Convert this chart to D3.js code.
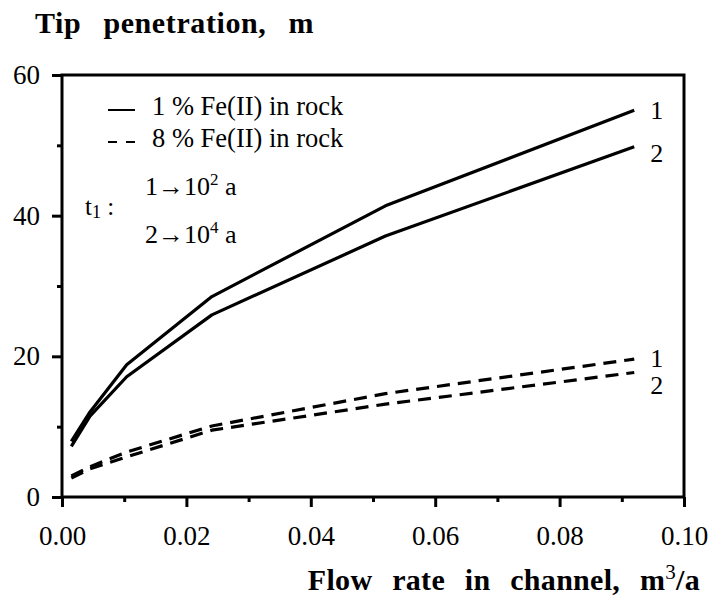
<!DOCTYPE html>
<html><head><meta charset="utf-8">
<script src="https://cdn.jsdelivr.net/npm/d3@7"></script>
<style>
body{margin:0;background:#fff;}
svg{display:block;}
</style></head>
<body>
<svg id="chart" width="710" height="608" font-family="Liberation Serif"></svg>
<script>
// ---- data ----
const flowRate = [0.0015, 0.0045, 0.0104, 0.0241, 0.052, 0.092];
const solid1 = [7.9, 12.1, 18.8, 28.5, 41.4, 55.0];   // 1 % Fe(II), t1 = 10^2 a
const solid2 = [7.2, 11.5, 17.1, 25.9, 37.1, 49.8];   // 1 % Fe(II), t1 = 10^4 a
const dashed1 = [3.0, 4.3, 6.4, 10.1, 14.7, 19.6];    // 8 % Fe(II), t1 = 10^2 a
const dashed2 = [2.7, 4.0, 5.7, 9.5, 13.2, 17.7];     // 8 % Fe(II), t1 = 10^4 a
const xMajorTicks = [0, 0.02, 0.04, 0.06, 0.08, 0.10];
const xMinorTicks = [0.01, 0.03, 0.05, 0.07, 0.09];
const yMajorTicks = [0, 20, 40, 60];
const yMinorTicks = [10, 30, 50];
const seriesNames = ["1 % Fe(II) in rock", "8 % Fe(II) in rock"];
const curveLabels = ["1", "2"];

const FONT = "Liberation Serif";
const svg = d3.select("#chart");
const x = d3.scaleLinear().domain([0, 0.10]).range([62, 684]);
const y = d3.scaleLinear().domain([0, 60]).range([497, 75]);

// axes
const gx = svg.append("g").attr("transform", `translate(0,${y(0)})`)
  .call(d3.axisBottom(x).tickValues(xMajorTicks).tickSize(10).tickSizeOuter(0).tickPadding(19).tickFormat(d3.format(".2f")));
const gxm = svg.append("g").attr("transform", `translate(0,${y(0)})`)
  .call(d3.axisBottom(x).tickValues(xMinorTicks).tickSize(5).tickSizeOuter(0).tickFormat(""));
const gy = svg.append("g").attr("transform", `translate(${x(0)},0)`)
  .call(d3.axisLeft(y).tickValues(yMajorTicks).tickSize(10).tickSizeOuter(0).tickPadding(12).tickFormat(d3.format("d")));
const gym = svg.append("g").attr("transform", `translate(${x(0)},0)`)
  .call(d3.axisLeft(y).tickValues(yMinorTicks).tickSize(5).tickSizeOuter(0).tickFormat(""));
[gx, gxm, gy, gym].forEach(g => {
  g.attr("font-family", null).attr("font-size", null);
  g.select(".domain").remove();
  g.selectAll("line").attr("stroke", "#000").attr("stroke-width", 3);
  g.selectAll("text").attr("font-size", 27).attr("fill", "#000");
});

// frame
svg.append("rect").attr("x", x(0)).attr("y", y(60)).attr("width", x(0.10) - x(0)).attr("height", y(0) - y(60))
  .attr("fill", "none").attr("stroke", "#000").attr("stroke-width", 3);

// lines
const line = d3.line().x((d, i) => x(flowRate[i])).y(d => y(d));
const series = [
  {v: solid1, dash: null},
  {v: solid2, dash: null},
  {v: dashed1, dash: "13 8"},
  {v: dashed2, dash: "13 8"}
];
series.forEach(s => {
  svg.append("path").datum(s.v).attr("d", line)
    .attr("fill", "none").attr("stroke", "#000").attr("stroke-width", 3.2)
    .attr("stroke-linejoin", "round")
    .attr("stroke-dasharray", s.dash);
});

// curve end labels
const lastX = x(flowRate[flowRate.length - 1]) + 16;
[[solid1, 0, 0], [solid2, 1, 6], [dashed1, 0, -1], [dashed2, 1, 12]].forEach(([arr, li, off]) => {
  svg.append("text").attr("x", lastX).attr("y", y(arr[arr.length - 1]) + off)
    .attr("dy", "0.35em").attr("font-size", 26).text(curveLabels[li]);
});

// legend
svg.append("line").attr("x1", 108).attr("x2", 135).attr("y1", 110).attr("y2", 110)
  .attr("stroke", "#000").attr("stroke-width", 2);
svg.append("line").attr("x1", 108).attr("x2", 135).attr("y1", 142).attr("y2", 142)
  .attr("stroke", "#000").attr("stroke-width", 2).attr("stroke-dasharray", "9 9");
svg.append("text").attr("x", 152).attr("y", 115).attr("font-size", 26.5).text(seriesNames[0]);
svg.append("text").attr("x", 152).attr("y", 147).attr("font-size", 26.5).text(seriesNames[1]);

// t1 annotation
const t1 = svg.append("text").attr("x", 85).attr("y", 215).attr("font-size", 25);
t1.append("tspan").text("t");
t1.append("tspan").attr("font-size", 18).attr("dy", 3).text("1");
t1.append("tspan").attr("dy", -3).text(" :");

const a1 = svg.append("text").attr("x", 145).attr("y", 195).attr("font-size", 26);
a1.append("tspan").text("1\u219210");
a1.append("tspan").attr("font-size", 17).attr("dy", -10).text("2");
a1.append("tspan").attr("dy", 10).text(" a");
const a2 = svg.append("text").attr("x", 145).attr("y", 243).attr("font-size", 26);
a2.append("tspan").text("2\u219210");
a2.append("tspan").attr("font-size", 17).attr("dy", -10).text("4");
a2.append("tspan").attr("dy", 10).text(" a");

// titles
svg.append("text").attr("x", 35).attr("y", 33).attr("font-size", 30).attr("font-weight", "bold")
  .attr("word-spacing", 14).attr("letter-spacing", 0.6).text("Tip penetration, m");
const xt = svg.append("text").attr("x", 700).attr("y", 590).attr("text-anchor", "end")
  .attr("font-size", 30).attr("font-weight", "bold").attr("word-spacing", 12).attr("letter-spacing", 0.3);
xt.append("tspan").text("Flow rate in channel, m");
xt.append("tspan").attr("font-weight", "normal").attr("font-size", 21).attr("dy", -11).text("3");
xt.append("tspan").attr("dy", 11).text("/a");

// fonts
svg.selectAll("text, tspan").attr("font-family", FONT).style("font-family", `"${FONT}"`).attr("fill", "#000");
</script>
</body></html>
